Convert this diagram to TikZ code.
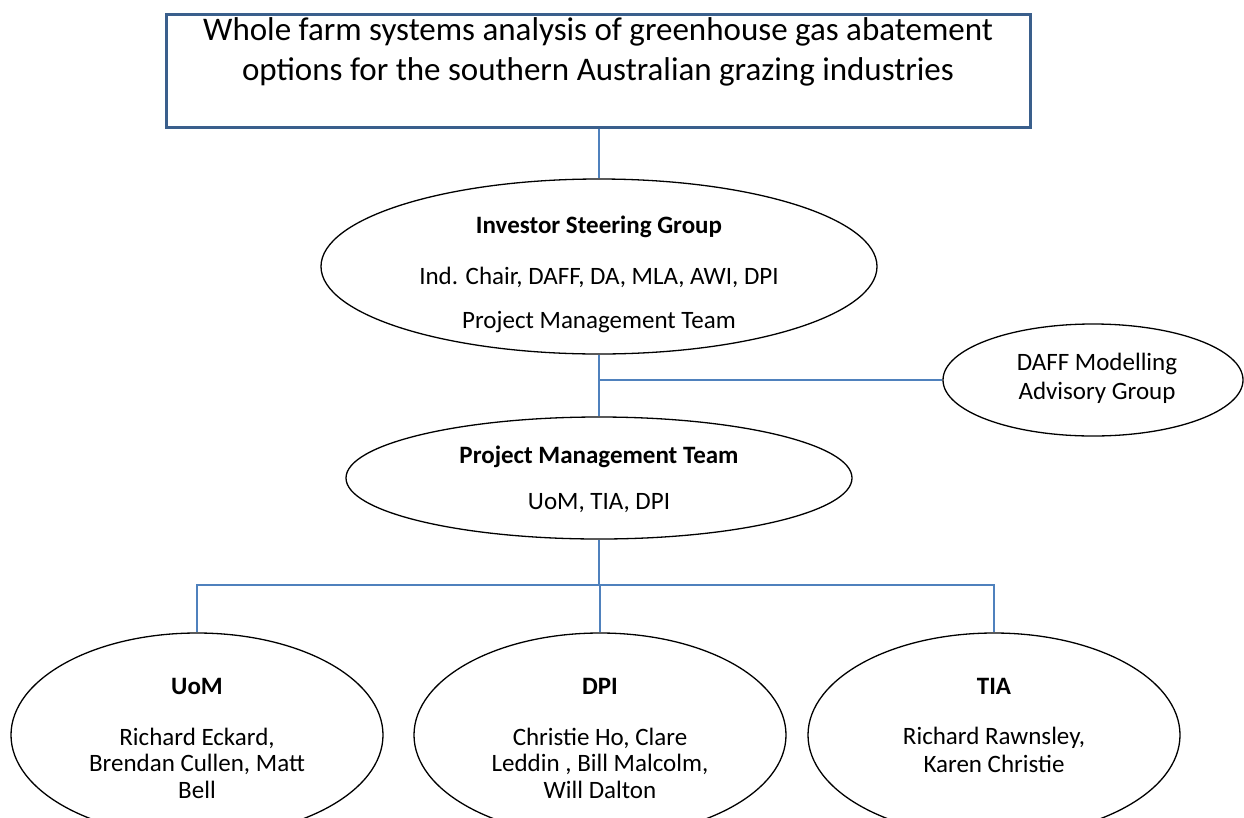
\documentclass[tikz,border=0pt]{standalone}
\usepackage{fontspec}
\setmainfont{Carlito}
\usetikzlibrary{shapes.geometric}
\definecolor{boxblue}{HTML}{3A5F8C}
\definecolor{linkblue}{HTML}{4F81BD}
\tikzset{
  titlebox/.style={draw=boxblue, line width=3pt, rectangle, inner sep=0pt},
  oval/.style={draw=black, line width=1.3pt, ellipse, inner sep=0pt},
  link/.style={draw=linkblue, line width=1.3pt},
  bigtext/.style={font=\fontsize{33}{40}\selectfont, inner sep=0pt, anchor=center},
  txt/.style={font=\fontsize{25}{26}\selectfont, inner sep=0pt, anchor=center},
  btxt/.style={txt, font=\fontsize{25}{26}\selectfont\bfseries},
}
\begin{document}
\begin{tikzpicture}[x=1pt, y=-1pt]
\useasboundingbox (0,0) rectangle (1244,817);

% title box
\node[titlebox, minimum width=864pt, minimum height=113pt] (title) at (598,70.5) {};
\node[bigtext] (t1) at (598,32) {Whole farm systems analysis of greenhouse gas abatement};
\node[bigtext] (t2) at (598,72) {options for the southern Australian grazing industries};

% investor steering group
\node[oval, minimum width=556pt, minimum height=175pt] (isg) at (599,266.5) {};
\node[btxt] (isg1) at (599,227) {Investor Steering Group};
\node[txt] (isg2) at (599,277) {Ind. Chair, DAFF, DA, MLA, AWI, DPI};
\node[txt] (isg3) at (599,322) {Project Management Team};

% DAFF modelling advisory group
\node[oval, minimum width=300pt, minimum height=112pt] (daff) at (1093,380) {};
\node[txt] (daff1) at (1097,364) {DAFF Modelling};
\node[txt] (daff2) at (1097,393) {Advisory Group};

% project management team
\node[oval, minimum width=506pt, minimum height=122pt] (pmt) at (599,478) {};
\node[btxt] (pmt1) at (599,457) {Project Management Team};
\node[txt] (pmt2) at (599,503) {UoM, TIA, DPI};

% partner organisations
\node[oval, minimum width=372pt, minimum height=204pt] (uom) at (197,735) {};
\node[btxt] (uom1) at (197,686) {UoM};
\node[txt] (uom2) at (197,738) {Richard Eckard,};
\node[txt] (uom3) at (197,764) {Brendan Cullen, Matt};
\node[txt] (uom4) at (197,790) {Bell};

\node[oval, minimum width=372pt, minimum height=204pt] (dpi) at (600,735) {};
\node[btxt] (dpi1) at (600,686) {DPI};
\node[txt] (dpi2) at (600,738) {Christie Ho, Clare};
\node[txt] (dpi3) at (600,764) {Leddin , Bill Malcolm,};
\node[txt] (dpi4) at (600,790) {Will Dalton};

\node[oval, minimum width=372pt, minimum height=204pt] (tia) at (994,735) {};
\node[btxt] (tia1) at (994,686) {TIA};
\node[txt] (tia2) at (994,738) {Richard Rawnsley,};
\node[txt] (tia3) at (994,764) {Karen Christie};

% connectors
\coordinate (j1) at (isg.south |- daff.west);
\coordinate (j2) at (599,585);
\draw[link] (title.south -| isg.north) -- (isg.north);
\draw[link] (isg.south) -- (pmt.north);
\draw[link] (j1) -- (daff.west);
\draw[link] (pmt.south) -- (j2);
\draw[link] (uom.north) |- (j2) -| (tia.north);
\draw[link] (j2) -| (dpi.north);
\end{tikzpicture}
\end{document}
